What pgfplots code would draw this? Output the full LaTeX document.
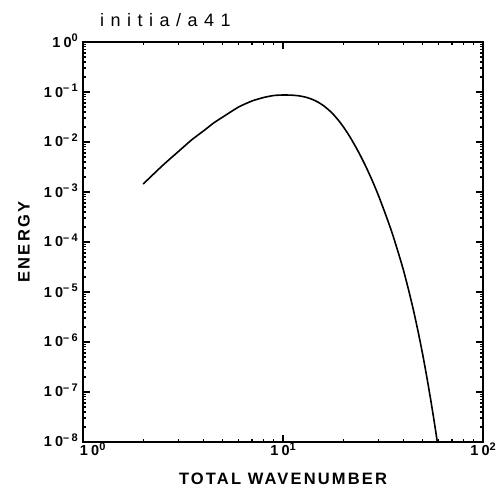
\documentclass[border=0pt]{standalone}
\usepackage{fontspec}
\setmainfont{Liberation Sans}
\newfontfamily\lblfont{Liberation Sans}[LetterSpace=13]
\newfontfamily\ttlfont{Liberation Sans}[LetterSpace=36]
\newfontfamily\tkfont{Liberation Sans}[LetterSpace=22]
\usepackage{pgfplots}
\pgfplotsset{compat=1.18}

% exponent with a proper dash for negative powers
\newcommand\expo[1]{\ifnum#1<0 \textendash\number\numexpr-#1\relax\else#1\fi}
\newcommand\tklab[1]{10\raisebox{5.5pt}{\fontsize{11}{11}\selectfont\expo{#1}}}

\begin{document}
\begin{tikzpicture}
\begin{axis}[
    xmode=log, ymode=log,
    scale only axis, width=400pt, height=400pt,
    xmin=1, xmax=100, ymin=1e-8, ymax=1,
    tick align=inside, tick pos=both,
    major tick length=7pt, minor tick length=3.5pt,
    every tick/.style={black, line width=1.3pt},
    axis line style={line width=2pt},
    ticklabel style={font=\tkfont\bfseries\fontsize{14.5}{14.5}\selectfont, inner sep=0pt},
    yticklabel={\pgfmathtruncatemacro\e{round(\tick/ln(10))}\tklab{\e}},
    xticklabel={\pgfmathtruncatemacro\e{round(\tick/ln(10))}\ifnum\e=0 \makebox[0pt][l]{\hspace{-3pt}\tklab{0}}\else\tklab{\e}\fi},
    yticklabel style={anchor=base east, xshift=-5pt, yshift=-5pt},
    xticklabel style={anchor=base, yshift=-14pt},
    xlabel={TOTAL WAVENUMBER},
    xlabel style={font=\lblfont\bfseries\fontsize{16.5}{16.5}\selectfont, inner sep=0pt,
      at={(axis description cs:0.5,0)}, anchor=center, yshift=-37pt},
    title={initia/a41},
    title style={font=\ttlfont\fontsize{18}{18}\selectfont, at={(axis description cs:0,1)},
      anchor=base west, xshift=17pt, yshift=10pt, inner sep=0pt},
]
\addplot[black, line width=1.6pt, smooth, tension=0.4] coordinates {
(2,1.445e-3)(2.5,3.39e-3)(3,6.46e-3)(3.5,1.109e-2)(4,1.66e-2)(4.5,2.40e-2)
(5,3.16e-2)(6,5.01e-2)(7,6.61e-2)(8,7.76e-2)(9,8.51e-2)(10,8.71e-2)
(11,8.65e-2)(12,8.39e-2)(13,7.87e-2)(14,7.13e-2)(15,6.24e-2)(16,5.27e-2)
(17,4.32e-2)(18,3.44e-2)(19,2.67e-2)(20,2.03e-2)(21,1.52e-2)(22,1.125e-2)
(24,6.04e-3)(26,3.19e-3)(28,1.66e-3)(30,8.55e-4)(32.5,3.65e-4)(35,1.585e-4)
(37.5,6.61e-5)(40,2.75e-5)(42.5,1.08e-5)(45,4.17e-6)(47.5,1.53e-6)
(50,5.50e-7)(52.5,1.88e-7)(55,6.31e-8)(57.5,2.07e-8)(60,6.61e-9)
};
\end{axis}
\node[rotate=90, anchor=center, inner sep=0pt, font=\lblfont\bfseries\fontsize{16.5}{16.5}\selectfont]
  at ([xshift=-59pt]current axis.west) {ENERGY};
\pgfresetboundingbox
\path ([shift={(-83pt,-47pt)}]current axis.south west) rectangle ([shift={(16pt,42pt)}]current axis.north east);
\end{tikzpicture}
\end{document}
